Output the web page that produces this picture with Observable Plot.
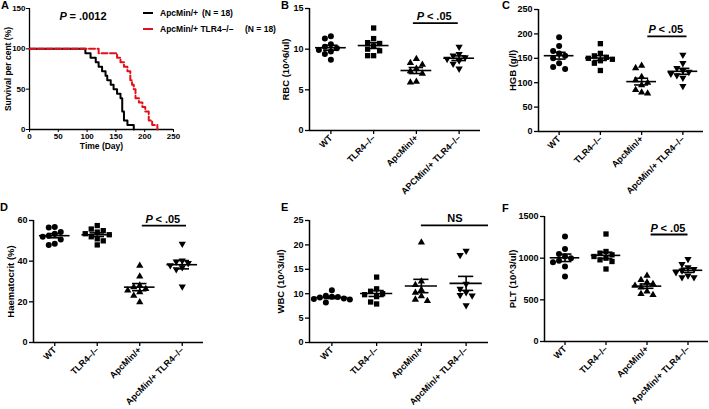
<!DOCTYPE html>
<html><head><meta charset="utf-8">
<script src="https://cdn.jsdelivr.net/npm/d3@7"></script>
<script src="https://cdn.jsdelivr.net/npm/@observablehq/plot@0.6"></script>
<style>
body{margin:0;background:#fff;font-family:"Liberation Sans",Arial,sans-serif;}
#fig{position:relative;width:709px;height:409px;overflow:hidden;background:#fff;}
.panel{position:absolute;}
.letter{position:absolute;font-weight:bold;font-size:11px;line-height:11px;color:#000;}
.leg{position:absolute;font-weight:bold;font-size:8.5px;line-height:10px;color:#000;white-space:nowrap;}
.swatch{position:absolute;width:10px;height:0;}
</style></head>
<body><div id="fig"></div>
<script>
// ---------- DATA ----------
const groupsB = ["WT", "TLR4–/–", "ApcMin/+", "APCMin/+ TLR4–/–"];
const groups = ["WT", "TLR4–/–", "ApcMin/+", "ApcMin/+ TLR4–/–"];

// Panel A: days of death (Kaplan-Meier), N = 18 each
const deathsApc = [97, 106, 115, 120, 126, 132, 135, 141, 146, 152, 158, 161, 161, 161, 164, 164, 170, 181];
const deathsApcTlr4 = [120, 152, 158, 164, 170, 175, 175, 178, 181, 184, 184, 190, 196, 201, 207, 207, 213, 222];
const kmXTicks = [0, 50, 100, 150, 200, 250];
const kmYTicks = [0, 50, 100, 150];

// Panel B: RBC (10^6/ul)
const rbcWT = [11.6, 11.3, 10.6, 10.3, 10.1, 9.9, 9.7, 9.4, 8.7];
const rbcTLR4 = [12.6, 11.3, 10.8, 10.7, 10.4, 10.0, 9.8, 9.2, 9.2];
const rbcApc = [8.8, 8.3, 8.1, 7.6, 7.3, 7.0, 6.0, 5.9];
const rbcApcTLR4 = [10.3, 9.4, 9.2, 9.0, 8.8, 8.6, 8.2, 7.6];
const rbcTicks = [0, 5, 10, 15];

// Panel C: HGB (g/l)
const hgbWT = [193, 175, 165, 160, 155, 150, 140, 132, 128];
const hgbTLR4 = [180, 160, 155, 152, 150, 148, 145, 140, 125];
const hgbApc = [135, 130, 112, 105, 100, 95, 85, 80, 78];
const hgbApcTLR4 = [157, 140, 130, 125, 122, 118, 115, 110, 93];
const hgbTicks = [0, 50, 100, 150, 200, 250];

// Panel D: Haematocrit (%)
const hctWT = [56.8, 56.5, 54.3, 53.5, 52.5, 52.0, 50.6, 48.6, 48.0];
const hctTLR4 = [57.5, 55.8, 55.0, 54.3, 53.5, 53.0, 52.0, 51.0, 50.0, 48.0];
const hctApc = [37.8, 32.5, 28.0, 27.2, 26.3, 25.6, 24.8, 23.0, 19.8];
const hctApcTLR4 = [48.5, 40.3, 39.8, 39.0, 38.0, 37.0, 36.0, 27.5];
const hctTicks = [0, 20, 40, 60];

// Panel E: WBC (10^3/ul)
const wbcWT = [10.7, 9.6, 9.4, 9.3, 9.2, 9.0, 8.9, 8.8, 8.2];
const wbcTLR4 = [13.4, 11.0, 10.5, 10.0, 9.8, 9.4, 8.3, 7.9];
const wbcApc = [20.5, 12.5, 11.8, 10.8, 10.2, 9.5, 8.8, 8.5];
const wbcApcTLR4 = [18.8, 17.9, 12.0, 11.0, 10.3, 9.7, 9.6, 7.6];
const wbcTicks = [0, 5, 10, 15, 20, 25];

// Panel F: PLT (10^3/ul)
const pltWT = [1260, 1110, 1050, 1020, 1000, 970, 950, 900, 780];
const pltTLR4 = [1290, 1080, 1060, 1040, 1020, 1000, 980, 960, 870];
const pltApc = [790, 740, 710, 690, 670, 650, 600, 570, 560];
const pltApcTLR4 = [990, 930, 890, 870, 850, 830, 790, 770, 770];
const pltTicks = [0, 500, 1000, 1500];

// ---------- HELPERS ----------
const fig = document.getElementById("fig");
const baseStyle = {background: "transparent", overflow: "visible", color: "black",
  fontFamily: "'Liberation Sans', Arial, sans-serif", fontWeight: "bold", fontSize: "9px"};

const sqrt3 = Math.sqrt(3);
const triangleDown = {
  draw(context, size) {
    const y = -Math.sqrt(size / (sqrt3 * 3));
    context.moveTo(0, -y * 2);
    context.lineTo(-sqrt3 * y, y);
    context.lineTo(sqrt3 * y, y);
    context.closePath();
  }
};
const symbols = ["circle", "square", "triangle", triangleDown];
const radii = [3.0, 3.0, 2.7, 2.7];

function place(el, left, top) {
  const d = document.createElement("div");
  d.className = "panel";
  d.style.left = left + "px";
  d.style.top = top + "px";
  d.appendChild(el);
  fig.appendChild(d);
}
function letter(t, left, top) {
  const d = document.createElement("div");
  d.className = "letter";
  d.textContent = t;
  d.style.left = left + "px";
  d.style.top = top + "px";
  fig.appendChild(d);
}

function kmSteps(deaths, n) {
  const times = Array.from(new Set(deaths)).sort((a, b) => a - b);
  const pts = [{t: 0, s: 100}];
  let dead = 0;
  for (const t of times) {
    dead += deaths.filter(d => d === t).length;
    pts.push({t, s: (n - dead) / n * 100});
  }
  return pts;
}

function scatterPanel(o) {
  const plotH = o.height - o.mt - o.mb, plotW = o.width - o.ml - o.mr;
  const pxY = plotH / (o.yDomain[1] - o.yDomain[0]);
  const pxX = plotW / 4;
  const pts = [], stats = [];
  const dmin = 6;
  o.data.forEach((vals, i) => {
    const sorted = vals.slice().sort((a, b) => b - a);
    const placed = [];
    sorted.forEach(v => {
      let off = 0;
      for (const c of [0, -1, 1, -2, 2, -3, 3, -4, 4]) {
        const ox = c * dmin;
        if (placed.every(p => Math.hypot(p.ox - ox, (p.v - v) * pxY) >= dmin)) { off = ox; break; }
      }
      placed.push({v, ox: off});
      pts.push({g: i, x: i + off / pxX, v});
    });
    const m = d3.mean(vals), se = d3.deviation(vals) / Math.sqrt(vals.length);
    stats.push({i, m, lo: m - se, hi: m + se});
  });
  const s = o.sig;
  const cx = (s.x1 + s.x2) / 2;
  const marks = [
    Plot.ruleX([-0.5], {strokeWidth: 1.5}),
    Plot.ruleY([o.yDomain[0]], {strokeWidth: 1.5}),
    Plot.axisY({ticks: o.yTicks, tickSize: 4, tickPadding: 2, tickFormat: d => String(d), label: null, strokeWidth: 1.3, fontSize: 9}),
    Plot.axisX({ticks: [0, 1, 2, 3], tickFormat: i => o.cats[i], tickRotate: -45, tickSize: 4, tickPadding: 2, label: null, strokeWidth: 1.3, fontSize: 9}),
    ...[0, 1, 2, 3].map(i => Plot.dot(pts.filter(p => p.g === i), {x: "x", y: "v", symbol: symbols[i], r: radii[i], fill: "black", stroke: "none"})),
    Plot.ruleY(stats, {y: "m", x1: d => d.i - 0.36, x2: d => d.i + 0.36, strokeWidth: 1.6}),
    Plot.ruleY(stats, {y: "lo", x1: d => d.i - 0.17, x2: d => d.i + 0.17, strokeWidth: 1.6}),
    Plot.ruleY(stats, {y: "hi", x1: d => d.i - 0.17, x2: d => d.i + 0.17, strokeWidth: 1.6}),
    Plot.ruleX(stats, {x: "i", y1: "lo", y2: "hi", strokeWidth: 1.6}),
    Plot.ruleY([s.y], {x1: () => s.x1, x2: () => s.x2, strokeWidth: 1.8}),
    Plot.text([o.yLabel], {frameAnchor: "left", dx: o.labelDx, rotate: -90, textAnchor: "middle", fontSize: 9.5})
  ];
  if (s.italicP) {
    marks.push(Plot.text([s], {x: () => cx, y: () => s.y, text: () => "P", fontStyle: "italic", textAnchor: "start", lineAnchor: "bottom", dx: -19, dy: -3, fontSize: 11}));
    marks.push(Plot.text([s], {x: () => cx, y: () => s.y, text: () => " < .05", textAnchor: "start", lineAnchor: "bottom", dx: -12, dy: -3, fontSize: 11}));
  } else {
    marks.push(Plot.text([s], {x: () => cx, y: () => s.y, text: () => s.text, textAnchor: "middle", lineAnchor: "bottom", dy: -3, fontSize: 11}));
  }
  const p = Plot.plot({
    width: o.width, height: o.height,
    marginLeft: o.ml, marginRight: o.mr, marginTop: o.mt, marginBottom: o.mb,
    x: {type: "linear", domain: [-0.5, 3.5]},
    y: {domain: o.yDomain},
    style: baseStyle,
    marks
  });
  place(p, o.left, o.top);
}

// ---------- PANEL A ----------
const kmA = Plot.plot({
  width: 235, height: 160, marginLeft: 29, marginRight: 62, marginTop: 8, marginBottom: 31,
  x: {domain: [0, 250]}, y: {domain: [0, 150]},
  style: {...baseStyle, fontSize: "8px"},
  marks: [
    Plot.ruleX([0], {strokeWidth: 1.3}),
    Plot.ruleY([0], {strokeWidth: 1.3}),
    Plot.axisX({ticks: kmXTicks, tickSize: 3, tickPadding: 1, tickFormat: d => String(d), label: null, fontSize: 8}),
    Plot.axisY({ticks: kmYTicks, tickSize: 3, tickPadding: 1, tickFormat: d => String(d), label: null, fontSize: 8}),
    Plot.line(kmSteps(deathsApc, 18), {x: "t", y: "s", curve: "step-after", stroke: "black", strokeWidth: 2}),
    Plot.line(kmSteps(deathsApcTlr4, 18), {x: "t", y: "s", curve: "step-after", stroke: "#e3101b", strokeWidth: 2, strokeDasharray: "6,2.5"}),
    Plot.text(["Survival per cent (%)"], {frameAnchor: "left", dx: -21, rotate: -90, textAnchor: "middle", fontSize: 8.5}),
    Plot.text(["Time (Day)"], {frameAnchor: "bottom", dy: 19, fontSize: 8.5}),
    Plot.text(["P"], {frameAnchor: "top-left", dx: 30, dy: 4, textAnchor: "start", fontStyle: "italic", fontSize: 11}),
    Plot.text([" = .0012"], {frameAnchor: "top-left", dx: 37, dy: 4, textAnchor: "start", fontSize: 11})
  ]
});
place(kmA, 0, 0);

// legend for A
(function () {
  const rows = [
    {color: "#000", dash: "solid", name: "ApcMin/+", n: "(N = 18)", top: 13, nx: 202},
    {color: "#e3101b", dash: "dashed", name: "ApcMin/+ TLR4–/–", n: "(N = 18)", top: 29, nx: 245}
  ];
  rows.forEach(r => {
    const sw = document.createElement("div");
    sw.className = "swatch";
    sw.style.left = "143px"; sw.style.top = (r.top - 1) + "px";
    sw.style.borderTop = "2px " + r.dash + " " + r.color;
    fig.appendChild(sw);
    const t = document.createElement("div");
    t.className = "leg"; t.textContent = r.name;
    t.style.left = "160px"; t.style.top = (r.top - 5) + "px";
    fig.appendChild(t);
    const n = document.createElement("div");
    n.className = "leg"; n.textContent = r.n;
    n.style.left = r.nx + "px"; n.style.top = (r.top - 5) + "px";
    fig.appendChild(n);
  });
})();

// ---------- PANELS B-F ----------
scatterPanel({left: 230, top: 0, width: 250, height: 200, ml: 79, mr: 0, mt: 8, mb: 70,
  yDomain: [0, 15], yTicks: rbcTicks, yLabel: "RBC (10^6/ul)", labelDx: -24, cats: groupsB,
  data: [rbcWT, rbcTLR4, rbcApc, rbcApcTLR4], sig: {y: 13.2, x1: 1.93, x2: 2.98, italicP: true}});

scatterPanel({left: 470, top: 0, width: 239, height: 200, ml: 68, mr: 6, mt: 9, mb: 69,
  yDomain: [0, 250], yTicks: hgbTicks, yLabel: "HGB (g/l)", labelDx: -26, cats: groups,
  data: [hgbWT, hgbTLR4, hgbApc, hgbApcTLR4], sig: {y: 195, x1: 2.15, x2: 3.1, italicP: true}});

scatterPanel({left: 0, top: 205, width: 205, height: 204, ml: 33, mr: 2, mt: 15, mb: 67,
  yDomain: [0, 60], yTicks: hctTicks, yLabel: "Haematocrit (%)", labelDx: -23, cats: groups,
  data: [hctWT, hctTLR4, hctApc, hctApcTLR4], sig: {y: 57.5, x1: 2.06, x2: 3.1, italicP: true}});

scatterPanel({left: 230, top: 205, width: 258, height: 204, ml: 79, mr: 0, mt: 15, mb: 67,
  yDomain: [0, 25], yTicks: wbcTicks, yLabel: "WBC (10^3/ul)", labelDx: -29, cats: groups,
  data: [wbcWT, wbcTLR4, wbcApc, wbcApcTLR4], sig: {y: 24.0, x1: 2.0, x2: 3.5, text: "NS"}});

scatterPanel({left: 470, top: 205, width: 239, height: 204, ml: 74, mr: 1, mt: 11, mb: 68,
  yDomain: [0, 1500], yTicks: pltTicks, yLabel: "PLT (10^3/ul)", labelDx: -32, cats: groups,
  data: [pltWT, pltTLR4, pltApc, pltApcTLR4], sig: {y: 1284, x1: 2.1, x2: 3.0, italicP: true}});

letter("A", 1, 0);
letter("B", 281, 0);
letter("C", 502, 0);
letter("D", 0, 202);
letter("E", 281, 202);
letter("F", 502, 203);
</script></body></html>
